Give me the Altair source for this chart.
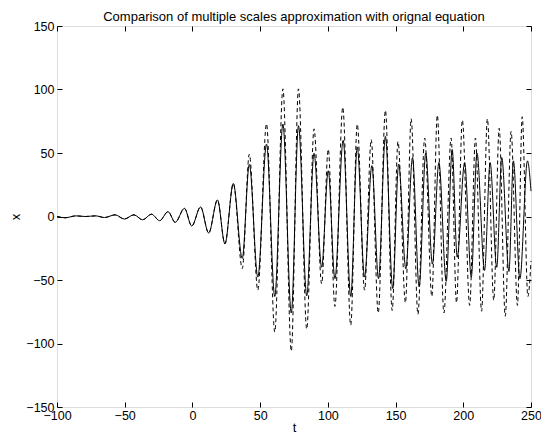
import altair as alt
import pandas as pd

# Solid curve (original equation): local extrema
solid_t = [-100, -94, -86, -79, -71.5, -65, -57, -50.3, -43.2, -36.8, -30.2, -24.2, -18, -12.7,
           -5.9, -0.5, 6, 12, 18.5, 24, 30.2, 36.8, 42, 48.3, 54.7, 60.8, 66.8, 73, 78.3, 84.4,
           89.8, 95.4, 100.3, 105.2, 111.3, 116.9, 121.7, 127.1, 132.5, 137.4, 142.5, 147.9,
           152.3, 157.6, 162.5, 167.4, 172.3, 177.2, 182, 187.4, 191.8, 195.5, 201, 205.9,
           210.1, 215.7, 219.8, 224.7, 228.4, 233.7, 237, 241.8, 247.4, 250]
solid_x = [0, -1, 0.5, 0, 0.5, -0.8, 1.3, -2, 1.3, -2.6, 1.8, -3.3, 3.8, -4.6,
           6.4, -7.5, 7.5, -13, 13, -21.5, 26, -33, 41, -47.7, 57, -63, 72.8, -76, 71.5, -62.5,
           49.8, -40, 36, -49, 60, -63, 54.8, -47.7, 40, -49, 63, -56.7,
           41.3, -41.3, 46.4, -55.4, 50, -37.5, 42.5, -51, 52.8, -32, 42.5, -47.7,
           50, -42.5, 42.5, -40, 46.4, -43.3, 43.8, -49, 43.8, 20]

# Dashed curve (multiple scales approximation)
dashed_t = [-100, -94, -86, -79, -71.5, -65, -57, -50.3, -43.2, -36.8, -30.2, -24.2, -18, -12.7,
            -5.9, -0.5, 6, 12, 18.5, 24, 30.2, 36.8, 42, 48.3, 54.7, 60.8, 66.8, 73, 78.3, 84.4,
            89.8, 95.4, 100.3, 105.2, 111, 116.9, 121.7, 127.1, 132, 137.2, 142.5, 147.5,
            151.8, 157.3, 161.5, 166.5, 171.5, 176.8, 180.8, 185.7, 191, 195, 199.3, 204.7,
            209, 213.5, 217.8, 222.5, 226.5, 231, 235.3, 240, 243.5, 247.7, 250]
dashed_x = [0, -1, 0.5, 0, 0.5, -0.8, 1.3, -2, 1.3, -2.6, 1.8, -3.3, 3.8, -4.6,
            6.4, -7.5, 7.5, -13, 13, -21.5, 26, -41, 49, -58, 73, -91, 100.5, -106, 100.5, -88.7,
            69, -53, 53, -70.8, 86, -85.6, 72.8, -58, 60.5, -76, 83.6, -74,
            59, -68, 77, -77, 61.8, -63, 79.8, -76, 61.8, -68, 76, -70,
            61.8, -74.6, 77, -66, 69.5, -78.5, 67, -70, 78.5, -63, -35]

x_ticks = [-100, -50, 0, 50, 100, 150, 200, 250]
y_ticks = [-150, -100, -50, 0, 50, 100, 150]

df_s = pd.DataFrame({"t": solid_t, "x": solid_x})
df_d = pd.DataFrame({"t": dashed_t, "x": dashed_x})

W, H = 474, 381
FONT = "Liberation Sans"
xs = alt.Scale(domain=[-100, 250], nice=False, zero=False)
ys = alt.Scale(domain=[-150, 150], nice=False, zero=False)


def tick_axis(orient, offset, values):
    return alt.Axis(orient=orient, offset=offset, values=values, labels=False, title=None,
                    domain=False, grid=False, ticks=True, tickSize=5, tickColor="black",
                    tickWidth=1)


solid = alt.Chart(df_s).mark_line(color="black", strokeWidth=1, interpolate="monotone").encode(
    x=alt.X("t:Q", scale=xs,
            axis=alt.Axis(values=x_ticks, title="t", ticks=False, domain=False, grid=False,
                          labelFontSize=12.5, titleFontSize=13, labelPadding=2, titlePadding=0,
                          labelFlush=False, labelOverlap=False, labelColor="black",
                          titleColor="black", titleFontWeight="normal", labelFont=FONT,
                          titleFont=FONT)),
    y=alt.Y("x:Q", scale=ys,
            axis=alt.Axis(values=y_ticks, title="x", ticks=False, domain=False, grid=False,
                          labelFontSize=12.5, titleFontSize=13, labelPadding=3, titlePadding=3,
                          labelFlush=False, labelOverlap=False, labelColor="black",
                          titleColor="black", titleFontWeight="normal", labelFont=FONT,
                          titleFont=FONT)),
)

dashed = alt.Chart(df_d).mark_line(color="black", strokeWidth=1, strokeDash=[4, 3],
                                    interpolate="monotone").encode(
    x=alt.X("t:Q", scale=xs, axis=tick_axis("top", -H, x_ticks)),
    y=alt.Y("x:Q", scale=ys, axis=tick_axis("right", -W, y_ticks)),
)

ghost = alt.Chart(df_d).mark_line(opacity=0).encode(
    x=alt.X("t:Q", scale=xs, axis=tick_axis("bottom", -H, x_ticks)),
    y=alt.Y("x:Q", scale=ys, axis=tick_axis("left", -W, y_ticks)),
)

chart = alt.layer(solid, dashed, ghost).resolve_axis(x="independent", y="independent").properties(
    width=W, height=H,
    title=alt.Title("Comparison of multiple scales approximation with orignal equation",
                    fontSize=13, fontWeight="normal", font=FONT, color="black", offset=-4),
    autosize=alt.AutoSizeParams(type="none"),
    padding={"left": 49, "top": 18, "right": 10, "bottom": 27},
).configure_view(stroke="black", strokeWidth=1).configure(background="white")

chart.save("out.html", embed_options={"renderer": "svg", "actions": False})
